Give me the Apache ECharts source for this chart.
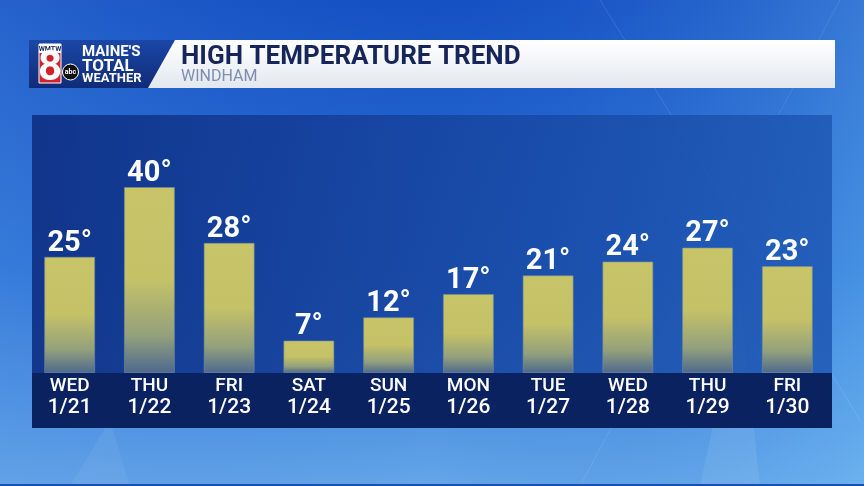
<!DOCTYPE html>
<html>
<head>
<meta charset="utf-8">
<script src="https://cdn.jsdelivr.net/npm/echarts@6/dist/echarts.min.js"></script>
<style>
html,body{margin:0;padding:0;background:#1a5ac6;}
#c{width:864px;height:486px;}
</style>
</head>
<body>
<div id="c"></div>
<script>
var days = ['WED','THU','FRI','SAT','SUN','MON','TUE','WED','THU','FRI'];
var dates = ['1/21','1/22','1/23','1/24','1/25','1/26','1/27','1/28','1/29','1/30'];
var highs = [25,40,28,7,12,17,21,24,27,23];
var title = 'HIGH TEMPERATURE TREND';
var subtitle = 'WINDHAM';

var categories = days.map(function(d,i){ return d + '\n' + dates[i]; });
var F = 'Roboto, "Noto Sans", sans-serif';

var chart = echarts.init(document.getElementById('c'), null, {renderer:'canvas'});
var G = echarts.graphic;

function txt(x, y, s, font, fill, z, align){
  return {type:'text', z:z||24, x:x, y:y,
    style:{text:s, fill:fill, font:font, align:align||'left', verticalAlign:'middle'}};
}

var graphics = [
  // sky background
  {type:'rect', z:-30, shape:{x:0,y:0,width:864,height:486},
   style:{fill:new G.LinearGradient(0,0,0,1,[{offset:0,color:'#1550c2'},{offset:0.55,color:'#2a72d6'},{offset:1,color:'#64a6e8'}])}},
  {type:'rect', z:-29, shape:{x:0,y:0,width:864,height:486},
   style:{fill:new G.LinearGradient(0,0,1,0,[{offset:0,color:'rgba(90,150,230,0.25)'},{offset:0.5,color:'rgba(40,100,210,0)'},{offset:1,color:'rgba(120,200,250,0.35)'}])}},
  {type:'polygon', z:-28, shape:{points:[[700,486],[760,486],[740,300]]}, style:{fill:'rgba(255,255,255,0.08)'}},
  {type:'polygon', z:-28, shape:{points:[[70,486],[130,486],[110,420]]}, style:{fill:'rgba(255,255,255,0.06)'}},
  {type:'line', z:-28, shape:{x1:600,y1:0,x2:860,y2:420}, style:{stroke:'rgba(255,255,255,0.12)',lineWidth:1}},
  {type:'line', z:-28, shape:{x1:840,y1:0,x2:580,y2:486}, style:{stroke:'rgba(255,255,255,0.10)',lineWidth:1}},
  {type:'rect', z:-28, shape:{x:0,y:484,width:864,height:2}, style:{fill:'#1a4fb0'}},
  // chart panel
  {type:'rect', z:-20, shape:{x:32,y:115,width:800,height:313},
   style:{fill:new G.LinearGradient(0,0,1,0,[{offset:0,color:'rgba(15,50,135,0.95)'},{offset:0.5,color:'rgba(22,68,160,0.88)'},{offset:1,color:'rgba(30,88,180,0.85)'}])}},
  {type:'rect', z:-19, shape:{x:32,y:373,width:800,height:55}, style:{fill:'#0b2261'}},
  // header logo box
  {type:'rect', z:20, shape:{x:29,y:40,width:160,height:48},
   style:{fill:new G.LinearGradient(0,0,0,1,[{offset:0,color:'#1a47a6'},{offset:1,color:'#102c78'}])}},
  // header white bar
  {type:'polygon', z:21, shape:{points:[[175,40],[835,40],[835,88],[148,88]]},
   style:{fill:new G.LinearGradient(0,0,0,1,[{offset:0,color:'#ffffff'},{offset:1,color:'#e3e8ef'}])}},
  // station logo
  {type:'rect', z:22, shape:{x:39,y:44,width:22,height:39}, style:{fill:'#d2232a',stroke:'#ffffff',lineWidth:1}},
  {type:'rect', z:23, shape:{x:39,y:44,width:22,height:9}, style:{fill:'#ffffff'}},
  txt(50, 49, 'WMTW', 'bold 7px '+F, '#1a2a5e', 24, 'center'),
  txt(50, 69.5, '8', 'bold 42px '+F, '#ffffff', 24, 'center'),
  {type:'circle', z:25, shape:{cx:70.5,cy:72,r:8}, style:{fill:'#111111',stroke:'#ffffff',lineWidth:1}},
  txt(70.5, 72, 'abc', 'bold 7px '+F, '#ffffff', 26, 'center'),
  txt(82, 52, "MAINE'S", 'bold 15px '+F, '#ffffff'),
  txt(82, 66.5, 'TOTAL', 'bold 17px '+F, '#ffffff'),
  txt(82, 79, 'WEATHER', 'bold 13px '+F, '#ffffff'),
  // titles
  txt(181, 57, title, 'bold 26px '+F, '#17265a'),
  txt(181, 77, subtitle, '16px '+F, '#7d8fae')
];

chart.setOption({
  animation:false,
  backgroundColor:'transparent',
  graphic:graphics,
  grid:{left:29.8, right:36.8, top:140.5, bottom:113, containLabel:false},
  xAxis:{
    type:'category', data:categories,
    axisLine:{show:false}, axisTick:{show:false},
    axisLabel:{
      margin:2, interval:0,
      formatter:function(v){ var p=v.split('\n'); return '{d|'+p[0]+'}\n{n|'+p[1]+'}'; },
      rich:{
        d:{fontFamily:F, fontSize:19, fontWeight:500, color:'#ffffff', lineHeight:22, align:'center'},
        n:{fontFamily:F, fontSize:21, fontWeight:500, color:'#ffffff', lineHeight:22, align:'center'}
      }
    }
  },
  yAxis:{type:'value', min:0, max:50, show:false, splitLine:{show:false}},
  series:[{
    type:'bar', data:highs, barWidth:51,
    itemStyle:{
      color:new G.LinearGradient(0,0,0,1,[{offset:0,color:'#c8c468'},{offset:0.5,color:'#c4c167'},{offset:0.8,color:'#93a07c'},{offset:1,color:'#4d698e'}]),
      borderColor:'rgba(120,140,150,0.6)', borderWidth:1
    },
    label:{
      show:true, position:'top', distance:-1,
      formatter:'{c}°', color:'#ffffff',
      fontFamily:F, fontSize:29, fontWeight:'bold'
    }
  }]
});
</script>
</body>
</html>
